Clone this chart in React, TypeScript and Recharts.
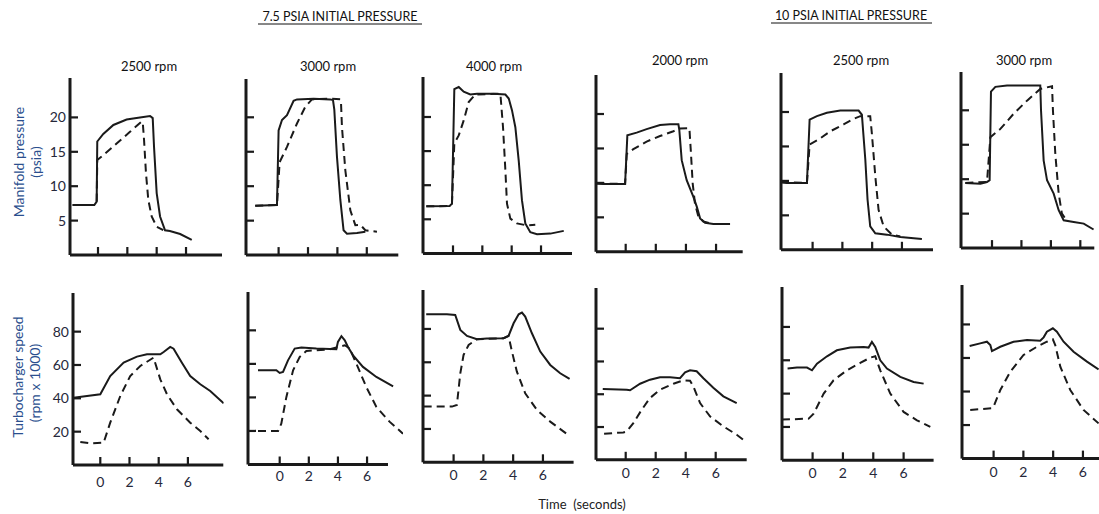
import React from 'react';
import { LineChart, Line, XAxis, YAxis, ReferenceLine } from 'recharts';

type Pt = { t: number; v: number };
const pts = (arr: number[][]): Pt[] => arr.map(([t, v]) => ({ t, v }));

// ---- tick values ----
const timeTicks = [0, 2, 4, 6];
const manifoldTicks = [5, 10, 15, 20];
const speedTicks = [20, 40, 60, 80];

// ---- 7.5 psia, 2500 rpm ----
const m75_2500_solid = pts([[-1.73,7.27],[-0.25,7.27],[-0.09,7.75],[-0.05,16.5],[0.36,17.6],[1.05,18.9],[1.95,19.7],[2.86,20.0],[3.55,20.2],[3.73,19.9],[3.82,15.7],[4.0,9.0],[4.23,5.6],[4.57,3.6],[4.9,3.5],[5.6,3.05],[6.39,2.2]]);
const m75_2500_dashed = pts([[-1.73,7.27],[-0.25,7.27],[-0.09,7.75],[-0.05,13.8],[0.36,14.5],[1.27,16.2],[2.18,17.9],[2.98,19.4],[3.05,19.3],[3.14,16.7],[3.27,11.9],[3.43,8.0],[3.66,5.6],[4.0,4.1],[4.45,3.6]]);
const s75_2500_solid = pts([[-1.83,40.4],[-0.91,41.4],[0,42.4],[0.68,53.4],[1.6,61.4],[2.51,65],[3.2,66.4],[4.11,66.4],[4.34,67.8],[4.79,70.8],[5.02,69.8],[5.59,61.4],[6.16,53.4],[6.85,48.4],[7.53,44.4],[8.45,37]]);
const s75_2500_dashed = pts([[-1.37,13.8],[-0.68,13],[0.23,13.4],[0.68,25.4],[1.37,41.4],[2.05,53.4],[2.74,59.4],[3.65,64.4],[4.11,51.4],[4.57,42.4],[5.25,33.4],[6.16,25.4],[6.85,20.4],[7.42,15.4]]);

// ---- 7.5 psia, 3000 rpm ----
const m75_3000_solid = pts([[-1.59,7.16],[-0.11,7.26],[0,18.1],[0.23,19.6],[0.57,20.3],[1.02,22.4],[1.25,22.6],[2.38,22.7],[3.51,22.6],[3.7,22.5],[3.79,21.1],[3.97,14.3],[4.2,8.0],[4.42,3.6],[4.65,3.1],[5.33,3.2],[5.9,3.4]]);
const m75_3000_dashed = pts([[-1.59,7.16],[-0.11,7.26],[0.07,13.5],[0.57,15.7],[1.25,19.1],[1.81,21.5],[2.27,22.6],[3.51,22.7],[4.2,22.6],[4.24,22.4],[4.31,18.6],[4.54,12.3],[4.88,6.5],[5.22,4.35],[5.56,4.4],[5.9,3.6],[6.69,3.4]]);
const s75_3000_solid = pts([[-1.49,56.2],[-0.23,56.2],[0,54.6],[0.23,55.2],[0.57,62.1],[1.03,69.1],[1.49,69.7],[2.52,69.1],[3.89,68.7],[4.0,73.1],[4.24,76.5],[4.47,74.1],[4.69,70.1],[5.04,65.1],[5.72,58.2],[6.64,52.2],[7.79,46.6]]);
const s75_3000_dashed = pts([[-1.49,20],[-0.11,20],[0.11,24.4],[0.46,40.3],[0.92,56.2],[1.37,64.1],[1.83,67.7],[3.43,68.7],[4.47,71.1],[4.81,69.1],[5.27,60.1],[5.95,46.2],[6.64,34.3],[7.56,25.4],[8.47,18.4]]);

// ---- 7.5 psia, 4000 rpm ----
const m75_4000_solid = pts([[-1.82,6.9],[-0.23,6.95],[-0.07,7.3],[0.09,24.1],[0.39,24.4],[0.73,23.7],[1.18,23.3],[1.64,23.4],[2.77,23.4],[3.57,23.3],[3.8,22.7],[4.02,21.0],[4.25,18.5],[4.48,13.6],[4.7,7.8],[4.93,4.4],[5.27,3.1],[5.73,2.8],[6.64,2.9],[7.55,3.3]]);
const m75_4000_dashed = pts([[-1.82,6.9],[-0.23,6.95],[-0.07,7.3],[0.09,16.1],[0.39,17.3],[0.73,19.5],[1.07,22.2],[1.52,23.3],[3.23,23.4],[3.41,18.5],[3.57,12.2],[3.68,7.3],[3.91,5.1],[4.36,4.4],[5.05,4.1],[5.61,4.2]]);
const s75_4000_solid = pts([[-1.84,88.8],[-0.45,88.8],[0.11,88.4],[0.45,79.4],[0.9,75.8],[1.57,73.8],[2.24,74.2],[3.36,74.4],[3.69,75.8],[4.03,83.4],[4.37,88.8],[4.59,89.8],[4.81,87.4],[5.26,77.4],[5.82,66.4],[6.49,58.4],[7.16,53.4],[7.79,50]]);
const s75_4000_dashed = pts([[-2.01,33.4],[-0.11,33.4],[0.22,34.4],[0.45,53.4],[0.67,64.4],[1.01,70.4],[1.57,73.8],[3.36,74.4],[3.69,75.8],[3.92,66.4],[4.25,54.4],[4.81,41.4],[5.6,31.4],[6.49,24.4],[7.61,17]]);

// ---- 10 psia, 2000 rpm ----
const m10_2000_solid = pts([[-1.93,9.93],[-1.5,9.84],[-0.04,9.84],[0.11,16.9],[0.73,17.3],[1.39,17.8],[2.28,18.4],[2.94,18.5],[3.5,18.5],[3.56,17.7],[3.72,13.3],[4.05,10.4],[4.49,8.0],[4.72,6.55],[4.94,4.85],[5.27,4.22],[5.82,4.03],[6.93,4.03]]);
const m10_2000_dashed = pts([[-1.93,9.93],[-0.04,9.84],[0.07,14.2],[0.51,14.9],[1.39,16.0],[2.28,16.8],[3.17,17.5],[3.61,17.9],[4.23,17.95],[4.32,14.8],[4.45,9.9],[4.6,7.0],[4.83,5.1],[5.16,4.4],[5.82,4.03]]);
const s10_2000_solid = pts([[-1.53,43.2],[0.07,42.8],[0.29,42.4],[0.96,46.4],[1.62,48.9],[2.29,50.3],[2.96,50.3],[3.62,49.8],[3.96,53.3],[4.29,54.6],[4.73,54],[5.18,49.8],[5.84,44],[6.51,38.7],[7.4,34.6]]);
const s10_2000_dashed = pts([[-1.44,15.9],[-0.16,16.7],[0.07,17.3],[0.51,22.4],[1.07,30.6],[1.62,37.7],[2.29,42.8],[3.18,46.4],[3.84,48.5],[4.29,48.3],[4.51,44.8],[4.96,34.6],[5.62,26.5],[6.51,20.4],[7.4,15.3],[8.07,10.6]]);

// ---- 10 psia, 2500 rpm ----
const m10_2500_solid = pts([[-2.13,9.8],[-1.72,9.7],[-0.38,9.7],[-0.2,18.9],[0.29,19.4],[0.96,19.9],[1.86,20.2],[3.09,20.2],[3.31,19.6],[3.54,13.1],[3.69,7.3],[3.87,3.4],[4.21,2.4],[4.99,2.2],[5.89,1.85],[7.34,1.56]]);
const m10_2500_dashed = pts([[-2.13,9.8],[-0.38,9.7],[-0.2,15.3],[0.4,16.0],[1.19,17.2],[2.08,18.2],[2.75,19.0],[3.2,19.4],[3.87,19.4],[3.98,16.9],[4.21,10.7],[4.43,5.8],[4.77,3.4],[5.33,2.2],[5.89,1.95]]);
const s10_2500_solid = pts([[-1.65,55],[-1.03,55.6],[-0.37,55.6],[-0.04,54],[0.29,58],[0.95,62.4],[1.6,66],[2.48,67.6],[3.36,68],[3.69,67.6],[3.91,71],[4.13,68],[4.46,60],[4.9,55],[5.78,50],[6.66,47],[7.32,46]]);
const s10_2500_dashed = pts([[-2.02,24.4],[-0.26,25],[0.07,28],[0.73,40],[1.38,48],[2.26,54],[3.14,58.4],[3.8,61.6],[4.13,62.4],[4.46,54],[5.12,40],[6.0,29],[6.88,24],[7.76,20]]);

// ---- 10 psia, 3000 rpm ----
const m10_3000_solid = pts([[-1.81,9.45],[-0.79,9.35],[-0.34,9.6],[-0.16,9.84],[-0.07,22.7],[0.23,23.4],[1.02,23.6],[3.28,23.6],[3.33,20],[3.51,12.7],[3.74,9.84],[4.19,7.9],[4.53,5.5],[4.87,4.03],[5.55,3.8],[6.23,3.55],[6.9,2.7]]);
const m10_3000_dashed = pts([[-1.81,9.45],[-0.34,9.6],[-0.11,16.1],[0.57,17.3],[1.47,19.5],[2.38,21.4],[3.28,23.1],[4.08,23.5],[4.14,20],[4.3,13.7],[4.53,7.9],[4.75,5.0],[4.98,4.27]]);
const s10_3000_solid = pts([[-1.61,67.1],[-0.9,68.7],[-0.45,69.7],[-0.22,67.7],[-0.11,64.1],[0.45,66.7],[1.34,69.7],[2.24,70.7],[3.13,70.3],[3.36,72.3],[3.58,75.7],[3.98,77.7],[4.25,75.7],[4.7,69.7],[5.37,63.7],[6.27,57.8],[7.05,53.2]]);
const s10_3000_dashed = pts([[-1.57,29],[-0.11,30],[0,31],[0.45,40.9],[1.12,51.8],[2.01,61.8],[2.91,66.7],[3.58,69.7],[3.98,71.1],[4.14,67.7],[4.48,54.8],[5.15,40.9],[6.04,29],[7.05,21]]);

// ---- layout (pixel frame of each panel) ----
type PanelCfg = {
  axisX: number; x0: number; pps: number; y0: number; ppu: number; top: number; axisEnd: number;
  yTicks: number[]; yLabels: boolean; xLabels: boolean; labelDy: number;
  solid: Pt[]; dashed: Pt[];
};

const INK = '#1a1a1a';
const FONT = 'Lato, "Open Sans", sans-serif';
const LABEL_COLOR = '#26283a';
const TITLE_BLUE = '#2B4F8E';

const panels: PanelCfg[] = [
  { axisX: 70, x0: 98, pps: 14.67, y0: 255, ppu: 6.88, top: 78, axisEnd: 222, yTicks: manifoldTicks, yLabels: true, xLabels: false, labelDy: 0, solid: m75_2500_solid, dashed: m75_2500_dashed },
  { axisX: 245.7, x0: 278.3, pps: 14.7, y0: 255.1, ppu: 6.89, top: 79, axisEnd: 398, yTicks: manifoldTicks, yLabels: false, xLabels: false, labelDy: 0, solid: m75_3000_solid, dashed: m75_3000_dashed },
  { axisX: 422.7, x0: 452.7, pps: 14.67, y0: 253.1, ppu: 6.82, top: 76.7, axisEnd: 571.7, yTicks: manifoldTicks, yLabels: false, xLabels: false, labelDy: 0, solid: m75_4000_solid, dashed: m75_4000_dashed },
  { axisX: 596, x0: 625.7, pps: 15.06, y0: 251.8, ppu: 6.89, top: 75, axisEnd: 742.7, yTicks: manifoldTicks, yLabels: false, xLabels: false, labelDy: 0, solid: m10_2000_solid, dashed: m10_2000_dashed },
  { axisX: 780.7, x0: 812.3, pps: 14.89, y0: 250.1, ppu: 6.89, top: 73.3, axisEnd: 932.7, yTicks: manifoldTicks, yLabels: false, xLabels: false, labelDy: 0, solid: m10_2500_solid, dashed: m10_2500_dashed },
  { axisX: 960.7, x0: 991.7, pps: 14.72, y0: 247.8, ppu: 6.89, top: 71.7, axisEnd: 1094, yTicks: manifoldTicks, yLabels: false, xLabels: false, labelDy: 0, solid: m10_3000_solid, dashed: m10_3000_dashed },
  { axisX: 72.7, x0: 100, pps: 14.6, y0: 465, ppu: 1.667, top: 293, axisEnd: 223, yTicks: speedTicks, yLabels: true, xLabels: true, labelDy: 17, solid: s75_2500_solid, dashed: s75_2500_dashed },
  { axisX: 248.3, x0: 280, pps: 14.56, y0: 464.2, ppu: 1.677, top: 291.7, axisEnd: 388.3, yTicks: speedTicks, yLabels: false, xLabels: true, labelDy: 12, solid: s75_3000_solid, dashed: s75_3000_dashed },
  { axisX: 422.7, x0: 453.3, pps: 14.89, y0: 462.3, ppu: 1.667, top: 290, axisEnd: 573.3, yTicks: speedTicks, yLabels: false, xLabels: true, labelDy: 13, solid: s75_4000_solid, dashed: s75_4000_dashed },
  { axisX: 596, x0: 625.7, pps: 15, y0: 460.1, ppu: 1.639, top: 288.3, axisEnd: 746.7, yTicks: speedTicks, yLabels: false, xLabels: true, labelDy: 13, solid: s10_2000_solid, dashed: s10_2000_dashed },
  { axisX: 781.7, x0: 812.3, pps: 15.17, y0: 460, ppu: 1.667, top: 286.7, axisEnd: 933.3, yTicks: speedTicks, yLabels: false, xLabels: true, labelDy: 13, solid: s10_2500_solid, dashed: s10_2500_dashed },
  { axisX: 961.7, x0: 993.3, pps: 14.89, y0: 458.6, ppu: 1.677, top: 285, axisEnd: 1099, yTicks: speedTicks, yLabels: false, xLabels: true, labelDy: 13, solid: s10_3000_solid, dashed: s10_3000_dashed },
];

const ML = 44, MT = 10, MR = 10, MB = 30;

function Panel({ cfg }: { cfg: PanelCfg }) {
  const xmin = (cfg.axisX - cfg.x0) / cfg.pps;
  const axisEndT = (cfg.axisEnd - cfg.x0) / cfg.pps;
  const dataMax = Math.max(...cfg.solid.map((p) => p.t), ...cfg.dashed.map((p) => p.t));
  const xmax = Math.max(axisEndT, dataMax);
  const plotW = (xmax - xmin) * cfg.pps;
  const plotH = cfg.y0 - cfg.top;
  const ytop = plotH / cfg.ppu;
  const W = plotW + ML + MR;
  const H = plotH + MT + MB;

  const renderY = (p: any) => {
    const { x, y, payload } = p;
    return (
      <g>
        <line x1={x} y1={y} x2={x + 8} y2={y} stroke={INK} strokeWidth={2.2} />
        {cfg.yLabels && (
          <text x={x - 4} y={y} dy={5} textAnchor="end" fontSize={14} fontFamily={FONT} fill={LABEL_COLOR}>
            {payload.value}
          </text>
        )}
      </g>
    );
  };
  const renderX = (p: any) => {
    const { x, y, payload } = p;
    return (
      <g>
        <line x1={x} y1={y} x2={x} y2={y - 8} stroke={INK} strokeWidth={2.2} />
        {cfg.xLabels && (
          <text x={x} y={y + cfg.labelDy} dy={5} textAnchor="middle" fontSize={14} fontFamily={FONT} fill={LABEL_COLOR}>
            {payload.value}
          </text>
        )}
      </g>
    );
  };

  return (
    <div style={{ position: 'absolute', left: cfg.axisX - ML, top: cfg.top - MT, width: W, height: H }}>
      <LineChart width={W} height={H} margin={{ top: MT, right: MR, left: 0, bottom: 0 }}>
        <XAxis
          type="number"
          dataKey="t"
          domain={[xmin, xmax]}
          allowDataOverflow
          ticks={timeTicks}
          interval={0}
          axisLine={false}
          tickLine={false}
          tickSize={0}
          tickMargin={0}
          height={MB}
          tick={renderX}
        />
        <YAxis
          type="number"
          domain={[0, ytop]}
          allowDataOverflow
          ticks={cfg.yTicks}
          interval={0}
          width={ML}
          axisLine={{ stroke: INK, strokeWidth: 3 }}
          tickLine={false}
          tickSize={0}
          tickMargin={0}
          tick={renderY}
        />
        <ReferenceLine
          segment={[{ x: xmin, y: 0 }, { x: axisEndT, y: 0 }]}
          stroke={INK}
          strokeWidth={3}
          ifOverflow="visible"
        />
        <Line data={cfg.dashed} dataKey="v" type="linear" dot={false} stroke={INK} strokeWidth={2} strokeDasharray="8 5" isAnimationActive={false} />
        <Line data={cfg.solid} dataKey="v" type="linear" dot={false} stroke={INK} strokeWidth={2} isAnimationActive={false} />
      </LineChart>
    </div>
  );
}

const rpmTitles = [
  { text: '2500 rpm', x: 149, y: 66 },
  { text: '3000 rpm', x: 328, y: 66 },
  { text: '4000 rpm', x: 494, y: 66 },
  { text: '2000 rpm', x: 680, y: 60 },
  { text: '2500 rpm', x: 861, y: 60 },
  { text: '3000 rpm', x: 1024, y: 60 },
];

export default function App() {
  return (
    <div style={{ position: 'absolute', left: 0, top: 0, width: 1099, height: 514, background: '#fff', overflow: 'hidden', fontFamily: FONT }}>
      <svg width={1099} height={514} style={{ position: 'absolute', left: 0, top: 0 }}>
        <text x={340} y={21} textAnchor="middle" fontSize={12.5} fontFamily={FONT} fill="#111">7.5 PSIA INITIAL PRESSURE</text>
        <line x1={258} y1={24} x2={422} y2={24} stroke="#111" strokeWidth={1} />
        <text x={851} y={20} textAnchor="middle" fontSize={12.5} fontFamily={FONT} fill="#111">10 PSIA INITIAL PRESSURE</text>
        <line x1={771} y1={23} x2={932} y2={23} stroke="#111" strokeWidth={1} />
        {rpmTitles.map((r, i) => (
          <text key={i} x={r.x} y={r.y} dy={4.5} textAnchor="middle" fontSize={13} fontFamily={FONT} fill="#111">{r.text}</text>
        ))}
        <text transform="translate(24,162) rotate(-90)" textAnchor="middle" fontSize={14} fontFamily={FONT} fill={TITLE_BLUE}>Manifold pressure</text>
        <text transform="translate(41,162) rotate(-90)" textAnchor="middle" fontSize={14} fontFamily={FONT} fill={TITLE_BLUE}>(psia)</text>
        <text transform="translate(23,377) rotate(-90)" textAnchor="middle" fontSize={14} fontFamily={FONT} fill={TITLE_BLUE}>Turbocharger speed</text>
        <text transform="translate(40,383) rotate(-90)" textAnchor="middle" fontSize={14} fontFamily={FONT} fill={TITLE_BLUE}>(rpm x 1000)</text>
        <text x={582} y={509} textAnchor="middle" fontSize={13} fontFamily={FONT} fill="#222" style={{ whiteSpace: 'pre' }}>Time  (seconds)</text>
      </svg>
      {panels.map((p, i) => (
        <Panel key={i} cfg={p} />
      ))}
    </div>
  );
}
